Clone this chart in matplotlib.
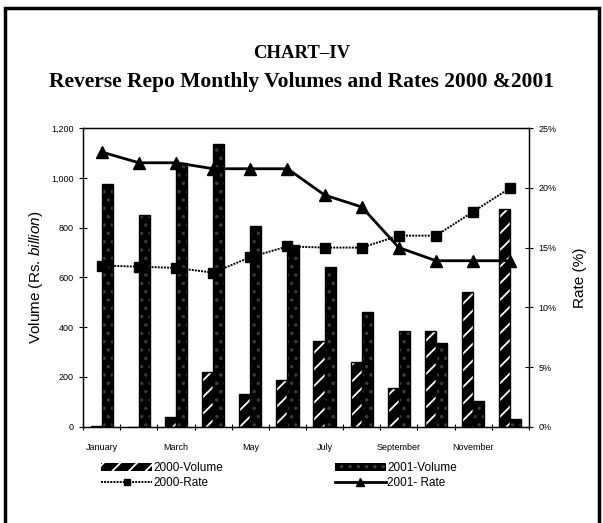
import matplotlib
matplotlib.use("Agg")
from matplotlib import pyplot as plt
from matplotlib.patches import Rectangle
from matplotlib.ticker import FuncFormatter
import numpy as np

plt.rcParams["font.family"] = ["Liberation Sans", "DejaVu Sans"]
plt.rcParams["mathtext.fontset"] = "custom"
plt.rcParams["mathtext.it"] = "Liberation Sans:italic"
plt.rcParams["hatch.linewidth"] = 1.3

# Data
months = ["January", "February", "March", "April", "May", "June", "July",
          "August", "September", "October", "November", "December"]
vol_2000 = [5, 0, 38, 222, 130, 187, 345, 262, 157, 385, 540, 875]
vol_2001 = [975, 850, 1060, 1135, 805, 730, 642, 462, 385, 335, 105, 30]
rate_2000 = [13.5, 13.4, 13.3, 12.9, 14.2, 15.1, 15.0, 15.0, 16.0, 16.0, 18.0, 20.0]
rate_2001 = [23.0, 22.1, 22.1, 21.6, 21.6, 21.6, 19.4, 18.4, 15.0, 13.9, 13.9, 13.9]

fig = plt.figure(figsize=(6.03, 5.23), dpi=100)
ax = fig.add_axes([0.138, 0.184, 0.739, 0.571])
ax2 = ax.twinx()

x = np.arange(len(months))
w = 0.3

# 2000 volume: black with white slashes
b2000 = ax.bar(x - w / 2, vol_2000, w, color="black", edgecolor="white",
               hatch="//", linewidth=0, label="2000-Volume")
ax.bar(x - w / 2, vol_2000, w, fill=False, edgecolor="black", linewidth=1)
# 2001 volume: nearly solid black with faint dots
b2001 = ax.bar(x + w / 2, vol_2001, w, color="black", edgecolor="#3a3a3a",
               hatch="..", linewidth=0, label="2001-Volume")
ax.bar(x + w / 2, vol_2001, w, fill=False, edgecolor="black", linewidth=1)

l2000, = ax2.plot(x, rate_2000, color="black", lw=1.4, ls=(0, (1, 0.6)),
                  marker="s", ms=7, mfc="black", mec="black", label="2000-Rate")
l2001, = ax2.plot(x, rate_2001, color="black", lw=2, marker="^", ms=9,
                  mfc="black", mec="black", label="2001- Rate")

ax.set_xlim(-0.5, 11.5)
ax.set_ylim(0, 1200)
ax2.set_ylim(0, 25)
ax.set_yticks(range(0, 1201, 200))
ax.yaxis.set_major_formatter(FuncFormatter(lambda v, p: f"{int(v):,}"))
ax2.set_yticks(range(0, 26, 5))
ax2.yaxis.set_major_formatter(FuncFormatter(lambda v, p: f"{int(v)}%"))

# month boundaries as ticks, labels every other month
ax.set_xticks(np.arange(-0.5, 12, 1))
ax.set_xticklabels([])
ax.set_xticks(x[::2], minor=True)
ax.set_xticklabels(months[::2], minor=True)
ax.tick_params(axis="x", which="minor", length=0, pad=12, labelsize=6.5)
ax.tick_params(axis="x", which="major", direction="inout", length=5, width=0.8)
ax.tick_params(axis="y", direction="inout", length=6, width=0.8, labelsize=6.5, pad=4)
ax2.tick_params(axis="y", direction="inout", length=6, width=0.8, labelsize=6.5, pad=4)

for a in (ax, ax2):
    for s in a.spines.values():
        s.set_linewidth(0.9)

ax.set_ylabel("Volume (Rs. $\\it{billion}$)", fontsize=11, labelpad=4)
ax2.set_ylabel("Rate (%)", fontsize=11, labelpad=12)

fig.text(0.5, 0.897, "CHART\u2013IV", ha="center", va="center",
         family="Liberation Serif", weight="bold", fontsize=13.5)
fig.text(0.5, 0.843, "Reverse Repo Monthly Volumes and Rates 2000 &2001",
         ha="center", va="center", family="Liberation Serif", weight="bold", fontsize=15.5)

fig.legend(handles=[b2000, l2000, b2001, l2001], ncol=2, frameon=False,
           loc="upper left", bbox_to_anchor=(0.158, 0.128), fontsize=8.5,
           handlelength=4.3, handleheight=0.6, handletextpad=0.1,
           columnspacing=9.5, labelspacing=0.25, borderpad=0, markerscale=0.6)

# outer frame of the scanned page
fig.add_artist(Rectangle((0.008, -0.05), 0.985, 1.035, transform=fig.transFigure,
                         fill=False, edgecolor="black", linewidth=2.5))

fig.savefig("out.png", dpi=100)
